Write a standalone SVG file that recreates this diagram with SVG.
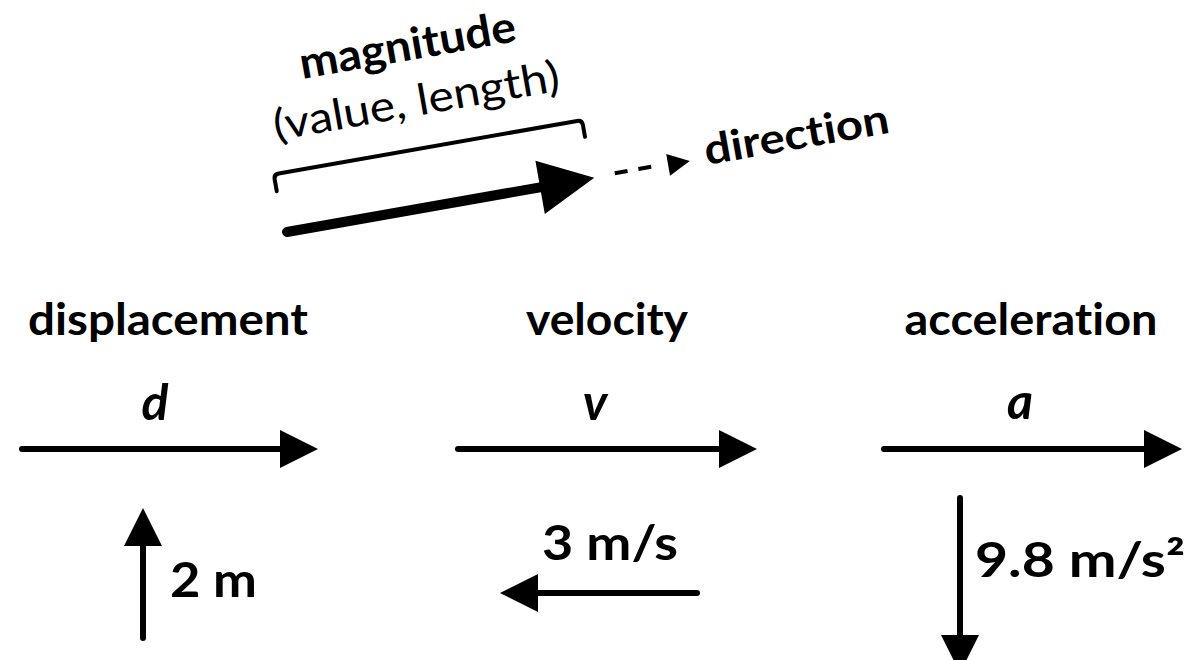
<svg xmlns="http://www.w3.org/2000/svg" width="1192" height="660" viewBox="0 0 1192 660">
<style>
  text { font-family: Lato, "Noto Sans", "Liberation Sans", sans-serif; fill: #000; font-variant-ligatures: none; }
  .lbl { font-size: 44px; font-weight: 700; text-anchor: middle; }
  .sym { font-size: 50px; font-weight: 700; font-style: italic; text-anchor: middle; }
  .val { font-size: 48px; font-weight: 700; }
  .arr { stroke: #000; stroke-width: 6; stroke-linecap: round; fill: none; }
</style>
<defs>
  <marker id="head" markerUnits="userSpaceOnUse" viewBox="0 0 38 38" refX="0" refY="19" markerWidth="38" markerHeight="38" orient="auto">
    <path d="M0,0 L38,19 L0,38 Z" fill="#000"/>
  </marker>
</defs>
<rect width="1192" height="660" fill="#fff"/>

<g id="vector-anatomy" transform="translate(287,232) rotate(-10)">
  <path d="M0,0 L257,0" stroke="#000" stroke-width="10" stroke-linecap="round" fill="none"/>
  <path d="M257,-27 L312,0 L257,27 Z" fill="#000"/>
  <path d="M333,-1 L380,-1" stroke="#000" stroke-width="4" stroke-dasharray="13 11" fill="none"/>
  <path d="M387,-11 L409,0 L387,11 Z" fill="#000"/>
  <path d="M-3,-42 L-3,-54 Q-3,-59 2,-59 L305,-59 Q310,-59 310,-54 L310,-42" stroke="#000" stroke-width="4" stroke-linecap="round" fill="none"/>
  <text x="151" y="-148" textLength="219" lengthAdjust="spacingAndGlyphs" style="font-size:44px;font-weight:700;text-anchor:middle">magnitude</text>
  <text x="150" y="-92" textLength="290" lengthAdjust="spacingAndGlyphs" style="font-size:43px;font-weight:400;text-anchor:middle">(value, length)</text>
  <text x="425" y="7" textLength="187" lengthAdjust="spacingAndGlyphs" style="font-size:42px;font-weight:700">direction</text>
</g>

<g id="displacement">
  <text class="lbl" x="168" y="335" textLength="280" lengthAdjust="spacingAndGlyphs">displacement</text>
  <text class="sym" x="155" y="420">d</text>
  <text class="val" x="170" y="597" textLength="87" lengthAdjust="spacingAndGlyphs">2 m</text>
</g>
<g id="velocity">
  <text class="lbl" x="607" y="335" textLength="162" lengthAdjust="spacingAndGlyphs">velocity</text>
  <text class="sym" x="595" y="420">v</text>
  <text class="val" x="542" y="560" textLength="136" lengthAdjust="spacingAndGlyphs">3 m/s</text>
</g>
<g id="acceleration">
  <text class="lbl" x="1031" y="335" textLength="253" lengthAdjust="spacingAndGlyphs">acceleration</text>
  <text class="sym" x="1020" y="419">a</text>
  <text class="val" x="975" y="577" textLength="210" lengthAdjust="spacingAndGlyphs">9.8 m/s²</text>
</g>

<g id="connectors">
  <path class="arr" d="M22,449 L280,449" marker-end="url(#head)"/>
  <path class="arr" d="M458,449 L719,449" marker-end="url(#head)"/>
  <path class="arr" d="M884,449 L1144,449" marker-end="url(#head)"/>
  <path class="arr" d="M143,638 L143,546" marker-end="url(#head)"/>
  <path class="arr" d="M697,593 L538,593" marker-end="url(#head)"/>
  <path class="arr" d="M960,498 L960,635" marker-end="url(#head)"/>
</g>
</svg>
